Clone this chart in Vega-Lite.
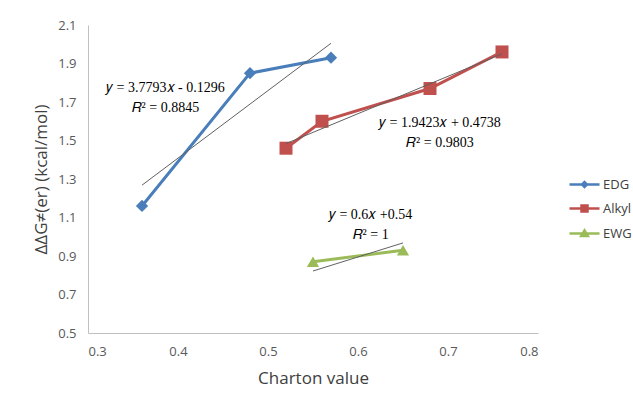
{
  "$schema": "https://vega.github.io/schema/vega-lite/v6.json",
  "width": 450,
  "height": 308,
  "autosize": "none",
  "padding": {"left": 88, "top": 25, "right": 95, "bottom": 70},
  "background": "white",
  "config": {
    "view": {"stroke": null},
    "font": "Open Sans",
    "axis": {
      "grid": false,
      "ticks": false,
      "labelOverlap": false,
      "domainColor": "#c0c0c0",
      "domainWidth": 1,
      "labelFont": "Open Sans",
      "labelFontSize": 13,
      "labelColor": "#595959",
      "titleFont": "Open Sans",
      "titleFontSize": 17,
      "titleFontWeight": "normal",
      "titleColor": "#404040"
    }
  },
  "datasets": {
    "series": [
      {"series": "EDG", "x": 0.36, "y": 1.16},
      {"series": "EDG", "x": 0.48, "y": 1.85},
      {"series": "EDG", "x": 0.57, "y": 1.93},
      {"series": "Alkyl", "x": 0.52, "y": 1.46},
      {"series": "Alkyl", "x": 0.56, "y": 1.60},
      {"series": "Alkyl", "x": 0.68, "y": 1.77},
      {"series": "Alkyl", "x": 0.76, "y": 1.96},
      {"series": "EWG", "x": 0.55, "y": 0.87},
      {"series": "EWG", "x": 0.65, "y": 0.93}
    ],
    "trend": [
      {"series": "EDG", "x": 0.36, "y": 1.268},
      {"series": "EDG", "x": 0.57, "y": 2.005},
      {"series": "Alkyl", "x": 0.52, "y": 1.484},
      {"series": "Alkyl", "x": 0.76, "y": 1.95},
      {"series": "EWG", "x": 0.55, "y": 0.822},
      {"series": "EWG", "x": 0.65, "y": 0.968}
    ],
    "notes": [
      {"text": "𝑦 = 3.7793𝑥 - 0.1296", "x": 0.386, "y": 1.773},
      {"text": "𝑅² = 0.8845", "x": 0.386, "y": 1.669},
      {"text": "𝑦 = 1.9423𝑥 + 0.4738", "x": 0.691, "y": 1.591},
      {"text": "𝑅² = 0.9803", "x": 0.691, "y": 1.487},
      {"text": "𝑦 = 0.6𝑥 +0.54", "x": 0.614, "y": 1.113},
      {"text": "𝑅² = 1", "x": 0.614, "y": 1.009}
    ]
  },
  "layer": [
    {
      "data": {"name": "series"},
      "mark": {"type": "line", "strokeWidth": 3},
      "encoding": {
        "x": {
          "field": "x", "type": "quantitative",
          "scale": {"domain": [0.3, 0.8], "zero": false, "nice": false},
          "axis": {"values": [0.3, 0.4, 0.5, 0.6, 0.7, 0.8], "tickCount": 6, "format": ".1f", "title": "Charton value", "labelPadding": 12, "titlePadding": 12}
        },
        "y": {
          "field": "y", "type": "quantitative",
          "scale": {"domain": [0.5, 2.1], "zero": false, "nice": false},
          "axis": {"values": [0.5, 0.7, 0.9, 1.1, 1.3, 1.5, 1.7, 1.9, 2.1], "tickCount": 9, "format": ".1f", "title": "ΔΔG≠(er) (kcal/mol)", "labelPadding": 12, "titlePadding": 7}
        },
        "color": {
          "field": "series", "type": "nominal",
          "scale": {"domain": ["EDG", "Alkyl", "EWG"], "range": ["#4a7ebb", "#c0504d", "#9bbb59"]},
          "legend": {
            "title": null,
            "orient": "none",
            "legendX": 480,
            "legendY": 143,
            "padding": 0,
            "symbolSize": 900,
            "labelOffset": 2,
            "rowPadding": -4.5,
            "labelFont": "Open Sans",
            "labelFontSize": 13,
            "labelColor": "#404040",
            "encode": {
              "symbols": {
                "update": {
                  "shape": {"signal": "datum.value === 'EDG' ? 'M-1,0L1,0M0,-0.16L0.16,0L0,0.16L-0.16,0Z' : datum.value === 'Alkyl' ? 'M-1,0L1,0M-0.2,-0.2L0.2,-0.2L0.2,0.2L-0.2,0.2Z' : 'M-1,0L1,0M0,-0.2L0.22,0.17L-0.22,0.17Z'"},
                  "fill": {"signal": "scale('color', datum.value)"},
                  "stroke": {"signal": "scale('color', datum.value)"},
                  "strokeWidth": {"value": 2.5},
                  "size": {"value": 900},
                  "opacity": {"value": 1},
                  "fillOpacity": {"value": 1},
                  "strokeOpacity": {"value": 1}
                }
              }
            }
          }
        }
      }
    },
    {
      "data": {"name": "series"},
      "transform": [{"filter": "datum.series === 'EDG'"}],
      "mark": {"type": "point", "filled": true, "opacity": 1, "shape": "diamond", "size": 150, "color": "#4a7ebb"},
      "encoding": {
        "x": {"field": "x", "type": "quantitative"},
        "y": {"field": "y", "type": "quantitative"}
      }
    },
    {
      "data": {"name": "series"},
      "transform": [{"filter": "datum.series === 'Alkyl'"}],
      "mark": {"type": "point", "filled": true, "opacity": 1, "shape": "square", "size": 169, "color": "#c0504d"},
      "encoding": {
        "x": {"field": "x", "type": "quantitative"},
        "y": {"field": "y", "type": "quantitative"}
      }
    },
    {
      "data": {"name": "series"},
      "transform": [{"filter": "datum.series === 'EWG'"}],
      "mark": {"type": "point", "filled": true, "opacity": 1, "shape": "triangle-up", "size": 150, "color": "#9bbb59"},
      "encoding": {
        "x": {"field": "x", "type": "quantitative"},
        "y": {"field": "y", "type": "quantitative"}
      }
    },
    {
      "data": {"name": "trend"},
      "mark": {"type": "line", "color": "#606060", "strokeWidth": 1},
      "encoding": {
        "x": {"field": "x", "type": "quantitative"},
        "y": {"field": "y", "type": "quantitative"},
        "detail": {"field": "series", "type": "nominal"}
      }
    },
    {
      "data": {"name": "notes"},
      "mark": {"type": "text", "font": "Liberation Serif", "fontSize": 14, "color": "#000000", "align": "center", "baseline": "middle"},
      "encoding": {
        "x": {"field": "x", "type": "quantitative"},
        "y": {"field": "y", "type": "quantitative"},
        "text": {"field": "text", "type": "nominal"}
      }
    }
  ]
}
